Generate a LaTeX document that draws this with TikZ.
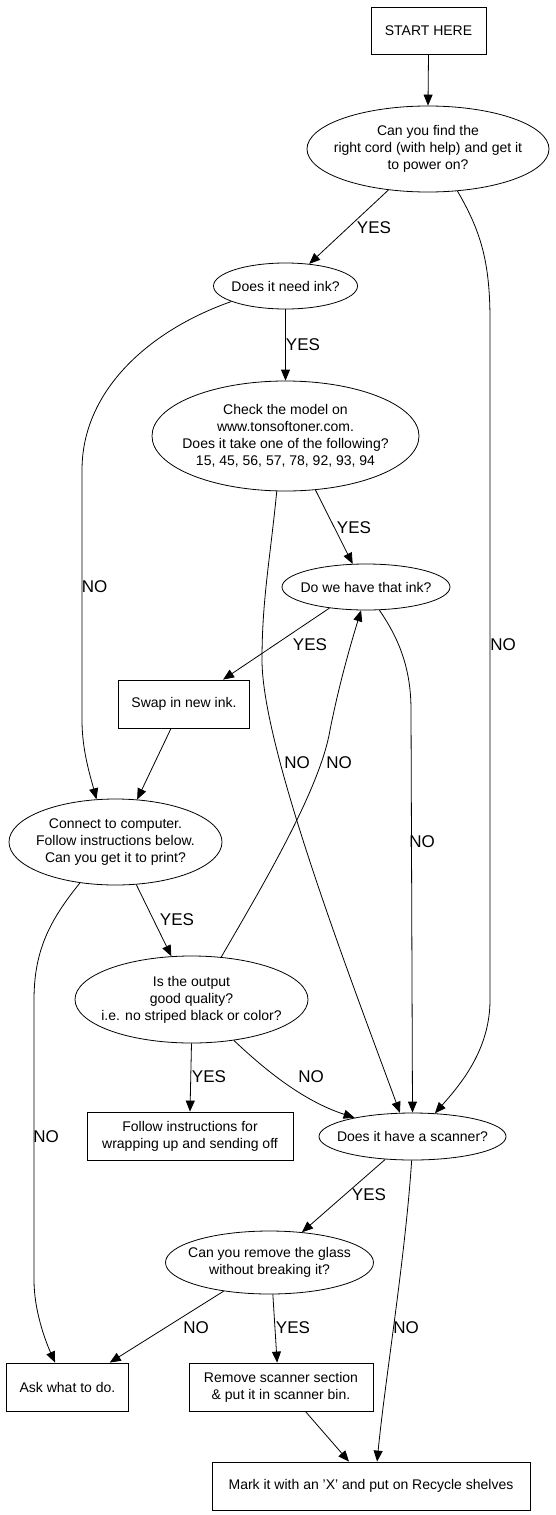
\documentclass[tikz,border=0pt]{standalone}
\usepackage{fontspec}
\setmainfont{Liberation Sans}
\usetikzlibrary{arrows.meta,shapes.geometric}
\tikzset{
  base/.style={draw, line width=0.8pt, inner sep=0pt, align=center, font=\fontsize{14}{17}\selectfont},
  boxnode/.style={base, rectangle},
  oval/.style={base, ellipse, inner sep=-40pt},
  edge/.style={line width=0.8pt, -{Triangle[length=11pt,width=9pt]}},
  lbl/.style={inner sep=0pt, font=\fontsize{17}{20}\selectfont},
}
\begin{document}
\begin{tikzpicture}[x=1pt,y=-1pt]
\useasboundingbox (0,0) rectangle (555,1515);
% nodes
\node[boxnode, minimum width=115pt, minimum height=47pt] (start) at (428.5,30.5) {START HERE};
\node[oval, minimum width=242pt, minimum height=86pt] (power) at (428,149) {Can you find the\\right cord (with help) and get it\\to power on?};
\node[oval, minimum width=144pt, minimum height=46pt] (ink) at (285.5,286) {Does it need ink?};
\node[oval, minimum width=267pt, minimum height=110pt] (model) at (285.5,436) {Check the model on\\www.tonsoftoner.com.\\Does it take one of the following?\\15, 45, 56, 57, 78, 92, 93, 94};
\node[oval, minimum width=168pt, minimum height=46pt] (have) at (366,587) {Do we have that ink?};
\node[boxnode, minimum width=131pt, minimum height=48pt] (swap) at (184,704) {Swap in new ink.};
\node[oval, minimum width=213pt, minimum height=86pt] (connect) at (115.5,842) {Connect to computer.\\Follow instructions below.\\Can you get it to print?};
\node[oval, minimum width=233pt, minimum height=87pt] (quality) at (191.5,999.5) {Is the output\\good quality?\\i.e. no striped black or color?};
\node[boxnode, minimum width=206pt, minimum height=48pt] (follow) at (190,1136) {Follow instructions for\\wrapping up and sending off};
\node[oval, minimum width=187pt, minimum height=47pt] (scanner) at (412.5,1136.5) {Does it have a scanner?};
\node[oval, minimum width=208pt, minimum height=63pt] (glass) at (269.5,1262.5) {Can you remove the glass\\without breaking it?};
\node[boxnode, minimum width=122pt, minimum height=48pt] (ask) at (67.5,1387) {Ask what to do.};
\node[boxnode, minimum width=184pt, minimum height=48pt] (remove) at (281,1387) {Remove scanner section\\\& put it in scanner bin.};
\node[boxnode, minimum width=318pt, minimum height=48pt] (recycle) at (371,1486) {Mark it with an 'X' and put on Recycle shelves};
% edges
\draw[edge] (start.south) -- (power.north);
\draw[edge] (power.226) -- (ink.43);
\draw[edge] (ink.south) -- (model.north);
\draw[edge] (ink.196) .. controls (150,330) and (82,390) .. (82,470) -- (82,720) .. controls (82,750) and (90,775) .. (connect.114);
\draw[edge] (model.299) -- (have.120);
\draw[edge] (have.210) -- (swap.32);
\draw[edge] (swap.242) -- (connect.63);
\draw[edge] (model.261) .. controls (270,560) and (262,600) .. (262,660) .. controls (262,750) and (355,990) .. (scanner.118);
\draw[edge] (quality.55) .. controls (260,890) and (320,790) .. (330,730) .. controls (340,680) and (352,640) .. (have.258);
\draw[edge] (have.300) .. controls (400,640) and (411,670) .. (411,710) -- (scanner.north);
\draw[edge] (power.305) .. controls (480,230) and (490,260) .. (490,320) -- (490,1000) .. controls (490,1050) and (460,1085) .. (scanner.46);
\draw[edge] (connect.296) -- (quality.115);
\draw[edge] (connect.229) .. controls (50,920) and (34,950) .. (34,1000) -- (34,1280) .. controls (34,1310) and (45,1340) .. (ask.117.5);
\draw[edge] (quality.south) -- (follow.north);
\draw[edge] (quality.316) .. controls (260,1065) and (300,1100) .. (scanner.162);
\draw[edge] (scanner.220) -- (glass.43);
\draw[edge] (glass.212) -- (ask.30);
\draw[edge] (glass.276) -- (remove.99.5);
\draw[edge] (scanner.268) .. controls (405,1260) and (385,1380) .. (recycle.76);
\draw[edge] (remove.315) -- (recycle.132.5);
% labels
\node[lbl] (l1) at (374,228) {YES};
\node[lbl] (l2) at (303,345) {YES};
\node[lbl] (l3) at (94.5,587) {NO};
\node[lbl] (l4) at (354,528) {YES};
\node[lbl] (l5) at (310,645) {YES};
\node[lbl] (l6) at (297,763) {NO};
\node[lbl] (l7) at (339,763) {NO};
\node[lbl] (l8) at (422,842) {NO};
\node[lbl] (l9) at (503,645) {NO};
\node[lbl] (l10) at (177,920) {YES};
\node[lbl] (l11) at (46,1137) {NO};
\node[lbl] (l12) at (209,1077) {YES};
\node[lbl] (l13) at (311,1077) {NO};
\node[lbl] (l14) at (369,1195) {YES};
\node[lbl] (l15) at (196,1328) {NO};
\node[lbl] (l16) at (293,1328) {YES};
\node[lbl] (l17) at (406,1328) {NO};
\end{tikzpicture}
\end{document}
